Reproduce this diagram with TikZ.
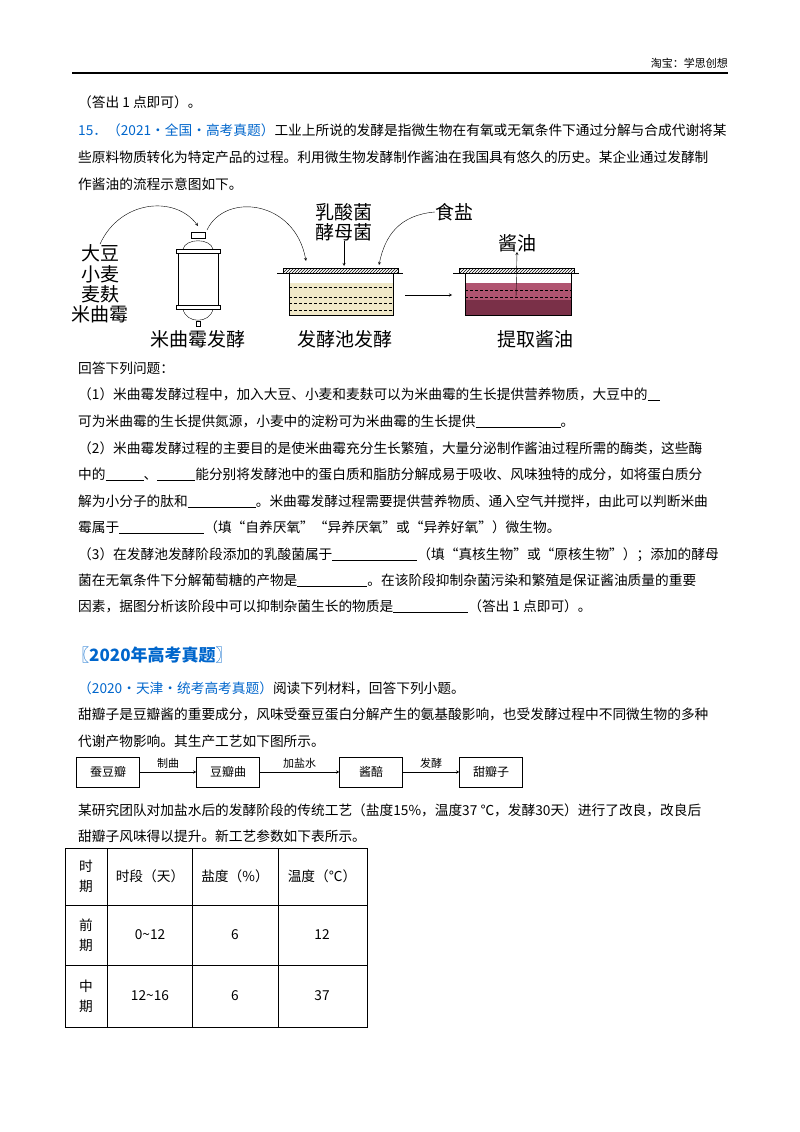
\documentclass[tikz,border=0pt]{standalone}
\usepackage{fontspec}
\setmainfont{Noto Sans CJK SC}
\newfontfamily\cjk{Noto Sans CJK SC}
\usetikzlibrary{patterns}
\definecolor{qblue}{RGB}{0,102,204}
\definecolor{beige}{RGB}{240,232,200}
\definecolor{rose}{RGB}{176,84,112}
\definecolor{wine}{RGB}{122,48,72}
\newcommand{\blank}[1]{\underline{\hspace{#1pt}}}
\newcommand{\body}{\fontsize{13.7}{16}\selectfont}
\tikzset{
  ln/.style={anchor=base west, inner sep=0, font=\body},
  lab/.style={font=\fontsize{19}{22}\selectfont, inner sep=0},
  box/.style={draw, minimum width=63pt, minimum height=30pt, inner sep=0, font=\fontsize{12}{14}\selectfont},
  cell/.style={font=\body, inner sep=0},
}
\begin{document}
\begin{tikzpicture}[x=1pt,y=-1pt,>=stealth]
	\useasboundingbox (0,0) rectangle (800,1132);
	\fill[white] (0,0) rectangle (800,1132);

	% header
	\node[anchor=base east, inner sep=0, font=\fontsize{11}{13}\selectfont] (hdr) at (728,67) {淘宝：学思创想};
	\draw[line width=1pt] (72,73)--(728,73);

	% question 15
	\node[ln] (l0) at (78,107) {（答出 1 点即可）。};
	\node[ln] (l1) at (78,135) {\textcolor{qblue}{15．（2021·全国·高考真题）}工业上所说的发酵是指微生物在有氧或无氧条件下通过分解与合成代谢将某};
	\node[ln] (l2) at (78,162) {些原料物质转化为特定产品的过程。利用微生物发酵制作酱油在我国具有悠久的历史。某企业通过发酵制};
	\node[ln] (l3) at (78,189) {作酱油的流程示意图如下。};

	% figure: raw materials
	\node[lab] (soy) at (100,253) {大豆};
	\node[lab] (wheat) at (100,274) {小麦};
	\node[lab] (bran) at (100,294) {麦麸};
	\node[lab] (koji) at (100,314) {米曲霉};

	% koji tank
	\draw (191,232) rectangle (205,238);
	\draw (183,249) .. controls (186,238) and (210,238) .. (213,249);
	\draw (176,249) rectangle (220,253);
	\draw (178,253) rectangle (218,305);
	\draw (176,305) rectangle (220,309);
	\draw (183,309) .. controls (186,324) and (210,324) .. (213,309);
	\draw (196,321) rectangle (200,326);
	\coordinate (tank) at (198,226);
	\coordinate (tanktop) at (207,230);
	\node[lab] (kojiLab) at (198,339) {米曲霉发酵};

	% fermentation pool
	\fill[beige] (289,283) rectangle (393,315);
	\draw[pattern=north east lines] (283,268) rectangle (398,273);
	\draw (277,273)--(403,273);
	\draw (289,273)--(289,315)--(393,315)--(393,273);
	\foreach \yy in {287,297,303,310}
	  \draw[densely dashed] (289,\yy)--(393,\yy);
	\node[lab] (pool) at (345,339) {发酵池发酵};
	\node[lab] (lacto) at (344,212) {乳酸菌};
	\node[lab] (yeast) at (344,232) {酵母菌};
	\node[lab] (salt) at (454,212) {食盐};
	\coordinate (poolL) at (306,261);
	\coordinate (poolM) at (344,266);
	\coordinate (poolR) at (379,265);
	\coordinate (poolOut) at (405,295);

	% extraction tank
	\fill[rose] (465,283) rectangle (571,300);
	\fill[wine] (465,300) rectangle (571,315);
	\draw[pattern=north east lines] (459,268) rectangle (574,273);
	\draw (453,273)--(579,273);
	\draw (465,273)--(465,315)--(571,315)--(571,273);
	\foreach \yy in {290,297}
	  \draw[densely dashed] (465,\yy)--(571,\yy);
	\node[lab] (soysauce) at (517,243) {酱油};
	\node[lab] (extract) at (535,339) {提取酱油};
	\coordinate (extIn) at (452,295);
	\coordinate (extOut) at (516,297);

	\draw[->] (soy.north) .. controls (120,200) and (175,195) .. (tank);
	\draw[->] (tanktop) .. controls (225,192) and (295,200) .. (poolL);
	\draw[->] (yeast.south) -- (poolM);
	\draw[->] (salt.west) .. controls (400,215) and (385,235) .. (poolR);
	\draw[->] (poolOut) -- (extIn);
	\draw[->] (extOut) -- (soysauce.south);

	% questions
	\node[ln] (q0) at (78,373) {回答下列问题：};
	\node[ln] (q1) at (78,399) {（1）米曲霉发酵过程中，加入大豆、小麦和麦麸可以为米曲霉的生长提供营养物质，大豆中的\blank{12}};
	\node[ln] (q2) at (78,426) {可为米曲霉的生长提供氮源，小麦中的淀粉可为米曲霉的生长提供\blank{85}。};
	\node[ln] (q3) at (78,453) {（2）米曲霉发酵过程的主要目的是使米曲霉充分生长繁殖，大量分泌制作酱油过程所需的酶类，这些酶};
	\node[ln] (q4) at (78,479) {中的\blank{38}、\blank{38}能分别将发酵池中的蛋白质和脂肪分解成易于吸收、风味独特的成分，如将蛋白质分};
	\node[ln] (q5) at (78,506) {解为小分子的肽和\blank{68}。米曲霉发酵过程需要提供营养物质、通入空气并搅拌，由此可以判断米曲};
	\node[ln] (q6) at (78,532) {霉属于\blank{85}（填“自养厌氧”“异养厌氧”或“异养好氧”）微生物。};
	\node[ln] (q7) at (78,559) {（3）在发酵池发酵阶段添加的乳酸菌属于\blank{85}（填“真核生物”或“原核生物”）；添加的酵母};
	\node[ln] (q8) at (78,585) {菌在无氧条件下分解葡萄糖的产物是\blank{70}。在该阶段抑制杂菌污染和繁殖是保证酱油质量的重要};
	\node[ln] (q9) at (78,611) {因素，据图分析该阶段中可以抑制杂菌生长的物质是\blank{75}（答出 1 点即可）。};

	% 2020 section
	\node[ln, font=\fontsize{17}{20}\selectfont\bfseries, text=qblue] (sec) at (72,661) {〖2020年高考真题〗};
	\node[ln] (s1) at (78,693) {\textcolor{qblue}{（2020·天津·统考高考真题）}阅读下列材料，回答下列小题。};
	\node[ln] (s2) at (78,719) {甜瓣子是豆瓣酱的重要成分，风味受蚕豆蛋白分解产生的氨基酸影响，也受发酵过程中不同微生物的多种};
	\node[ln] (s3) at (78,746) {代谢产物影响。其生产工艺如下图所示。};

	% flow chart
	\node[box] (b1) at (108,772) {蚕豆瓣};
	\node[box] (b2) at (228,772) {豆瓣曲};
	\node[box] (b3) at (371,772) {酱醅};
	\node[box] (b4) at (491,772) {甜瓣子};
	\draw[->] (b1) -- node[above, font=\fontsize{11}{13}\selectfont] {制曲} (b2);
	\draw[->] (b2) -- node[above, font=\fontsize{11}{13}\selectfont] {加盐水} (b3);
	\draw[->] (b3) -- node[above, font=\fontsize{11}{13}\selectfont] {发酵} (b4);

	\node[ln] (s4) at (78,815) {某研究团队对加盐水后的发酵阶段的传统工艺（盐度15\%，温度37 ℃，发酵30天）进行了改良，改良后};
	\node[ln] (s5) at (78,841) {甜瓣子风味得以提升。新工艺参数如下表所示。};

	% table
	\draw (65,848) rectangle (367,1027);
	\foreach \yy in {905,965} \draw (65,\yy)--(367,\yy);
	\foreach \xx in {107,192,278} \draw (\xx,848)--(\xx,1027);
	\node[cell, align=center] (h0) at (86,876) {时\\[4pt]期};
	\node[cell] (h1) at (150,876) {时段（天）};
	\node[cell] (h2) at (235,876) {盐度（\%）};
	\node[cell] (h3) at (322,876) {温度（℃）};
	\node[cell, align=center] (r1) at (86,935) {前\\[4pt]期};
	\node[cell] (r1a) at (150,935) {0\textasciitilde12};
	\node[cell] (r1b) at (235,935) {6};
	\node[cell] (r1c) at (322,935) {12};
	\node[cell, align=center] (r2) at (86,996) {中\\[4pt]期};
	\node[cell] (r2a) at (150,996) {12\textasciitilde16};
	\node[cell] (r2b) at (235,996) {6};
	\node[cell] (r2c) at (322,996) {37};
\end{tikzpicture}
\end{document}
